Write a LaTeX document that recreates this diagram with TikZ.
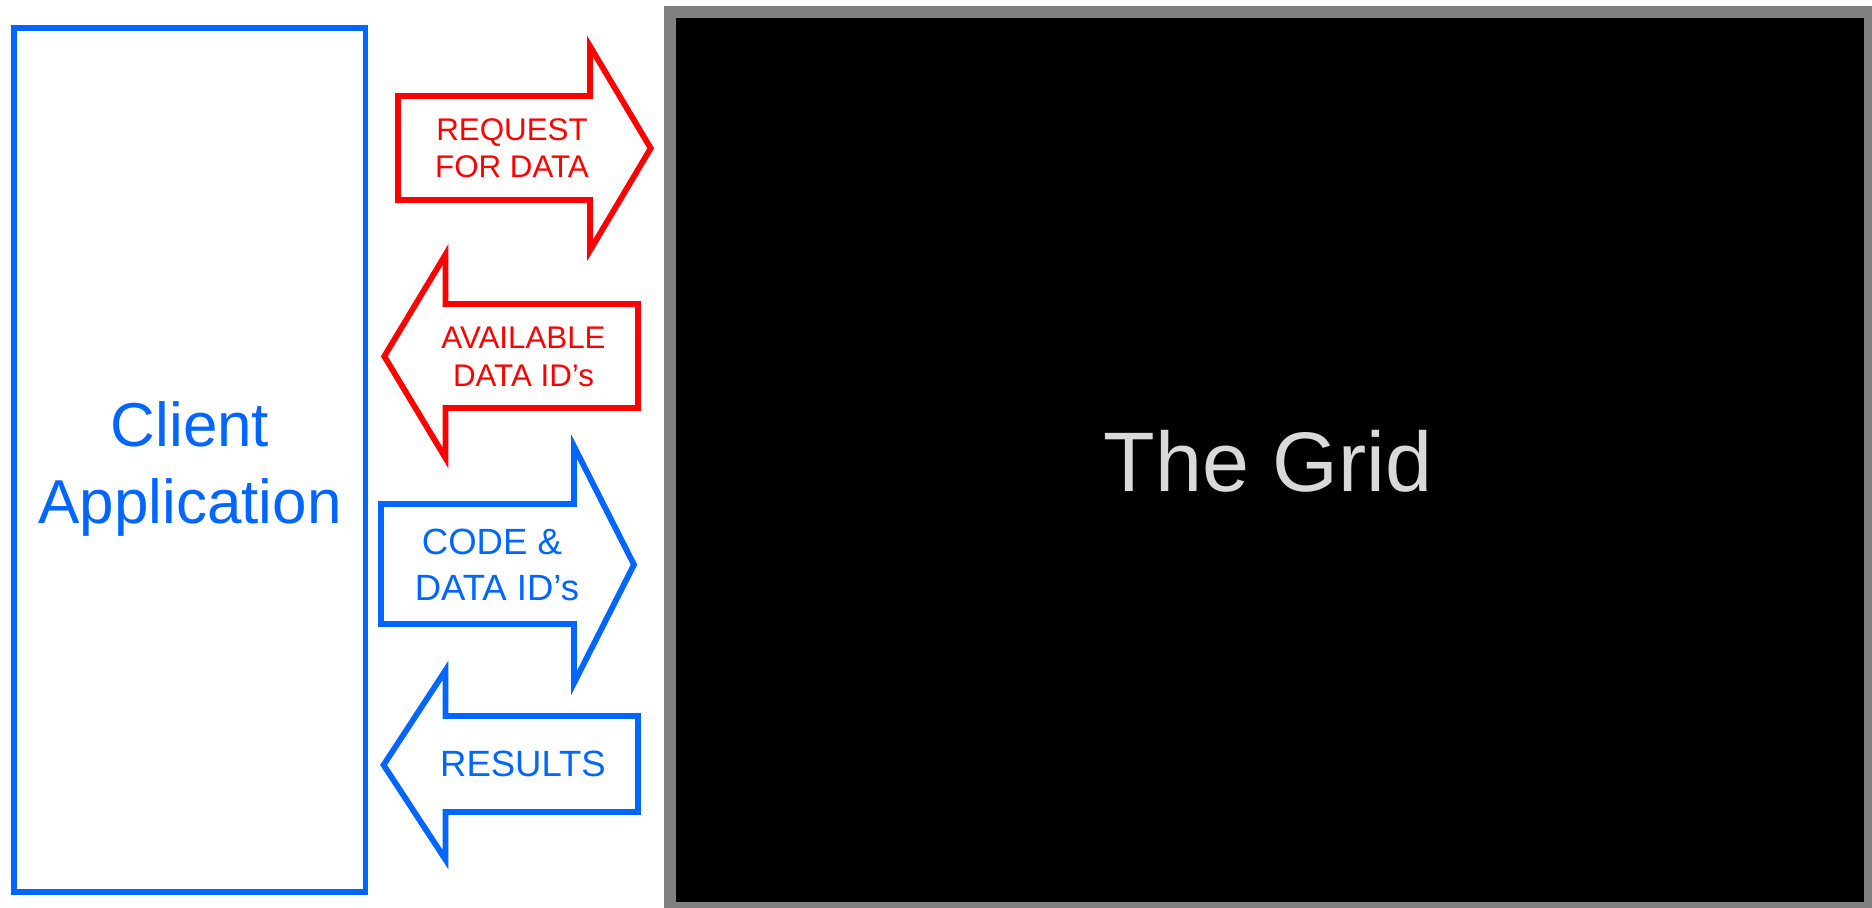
\documentclass[tikz,border=0pt]{standalone}
\usepackage{fontspec}
\setmainfont{Liberation Sans}
\definecolor{clientblue}{RGB}{0,102,255}
\definecolor{framegray}{RGB}{128,128,128}
\definecolor{gridtext}{RGB}{217,217,217}
\begin{document}
\begin{tikzpicture}[x=0.5pt, y=-0.5pt,
    redarrow/.style={draw=red, line width=2.9pt, fill=white},
    bluearrow/.style={draw=clientblue, line width=2.9pt, fill=white},
    redlabel/.style={text=red, align=center, inner sep=0pt, font=\fontsize{15.65}{18.9}\selectfont},
    bluelabel/.style={text=clientblue, align=center, inner sep=0pt, font=\fontsize{18.25}{22.85}\selectfont}]
  \useasboundingbox (0,0) rectangle (1872,908);
  \fill[framegray] (664,6) rectangle (1872,908);
  \fill[black] (676,18) rectangle (1864,902);
  \node[text=gridtext, inner sep=0pt, font=\fontsize{42.25}{50}\selectfont] (grid) at (1268,461.4) {The Grid};
  \draw[clientblue, line width=2.9pt] (14,28) rectangle (365.5,892);
  \node[text=clientblue, align=center, inner sep=0pt, font=\fontsize{31}{38.8}\selectfont] (client) at (190,468.8) {Client\\Application};
  \draw[redarrow] (398,96) -- (590,96) -- (590,46.3) -- (650.7,148.3) -- (590,250.4) -- (590,200) -- (398,200) -- cycle;
  \node[redlabel] (request) at (512,148.3) {REQUEST\\FOR DATA};
  \draw[redarrow] (638,304) -- (445.5,304) -- (445.5,254.6) -- (384.3,356.3) -- (445.5,458) -- (445.5,408) -- (638,408) -- cycle;
  \node[redlabel] (available) at (523.5,357) {AVAILABLE\\DATA ID’s};
  \draw[bluearrow] (381,504) -- (574,504) -- (574,446.4) -- (634,564.7) -- (574,683) -- (574,624) -- (381,624) -- cycle;
  \node[bluelabel] (code) at (497,565) {CODE \&\kern0.278em\\DATA ID’s};
  \draw[bluearrow] (638,716) -- (445.5,716) -- (445.5,670.4) -- (383.6,765) -- (445.5,859.6) -- (445.5,812) -- (638,812) -- cycle;
  \node[bluelabel] (results) at (523,764) {RESULTS};
\end{tikzpicture}
\end{document}
